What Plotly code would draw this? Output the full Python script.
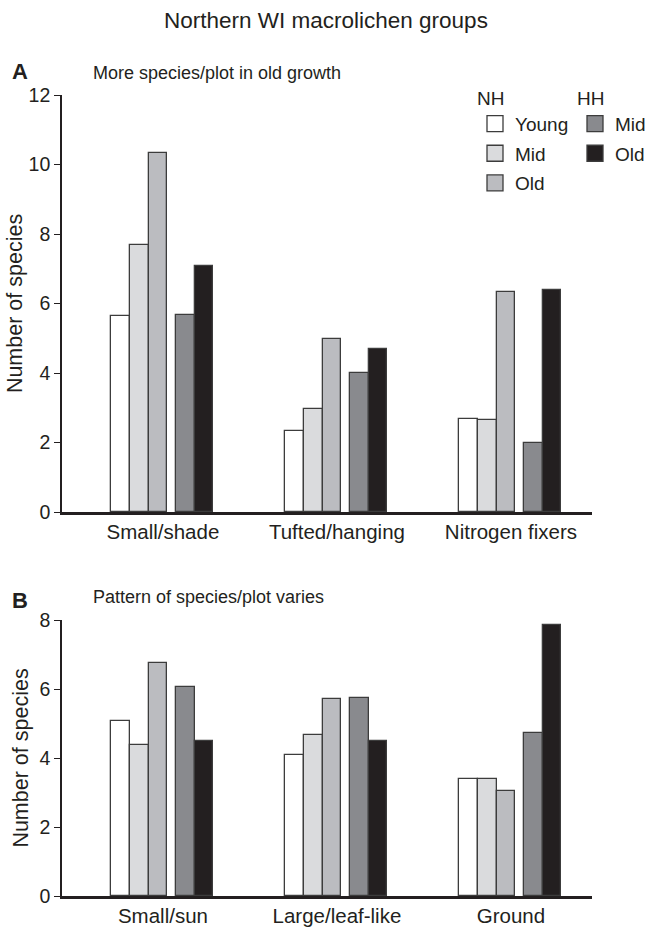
import plotly.graph_objects as go
from plotly.subplots import make_subplots

# Lichen functional groups per panel
groups_a = ["Small/shade", "Tufted/hanging", "Nitrogen fixers"]
groups_b = ["Small/sun", "Large/leaf-like", "Ground"]

# Mean number of species per plot, by forest type and stand age
nh_young_a = [5.64, 2.32, 2.67]
nh_mid_a = [7.67, 2.96, 2.65]
nh_old_a = [10.33, 4.99, 6.32]
hh_mid_a = [5.66, 4.00, 1.99]
hh_old_a = [7.07, 4.69, 6.40]

nh_young_b = [5.06, 4.09, 3.38]
nh_mid_b = [4.38, 4.68, 3.40]
nh_old_b = [6.75, 5.72, 3.04]
hh_mid_b = [6.06, 5.74, 4.72]
hh_old_b = [4.49, 4.48, 7.86]

y_ticks_a = [0, 2, 4, 6, 8, 10, 12]
y_ticks_b = [0, 2, 4, 6, 8]

FONT = "Liberation Sans, Arial, Helvetica, sans-serif"
INK = "#231f20"
W, H = 652, 928
BAR_W = 0.108
EDGE = dict(color="#3c3c3c", width=1.3)

series = [
    # key, name, legend, fill, offset, values A, values B
    ("nh_young", "Young", "legend", "#ffffff", -0.298, nh_young_a, nh_young_b),
    ("nh_mid", "Mid", "legend", "#dadbdd", -0.190, nh_mid_a, nh_mid_b),
    ("nh_old", "Old", "legend", "#bbbcc0", -0.082, nh_old_a, nh_old_b),
    ("hh_mid", "Mid", "legend2", "#898a8e", 0.074, hh_mid_a, hh_mid_b),
    ("hh_old", "Old", "legend2", "#231f20", 0.182, hh_old_a, hh_old_b),
]

fig = make_subplots(rows=2, cols=1)

for key, name, leg, fill, off, va, vb in series:
    fig.add_trace(go.Bar(x=groups_a, y=va, name=name, legendgroup=key,
                         marker=dict(color=fill, line=EDGE),
                         width=BAR_W, offset=off, showlegend=False),
                  row=1, col=1)
    fig.add_trace(go.Bar(x=groups_b, y=vb, name=name, legendgroup=key,
                         marker=dict(color=fill, line=EDGE),
                         width=BAR_W, offset=off, showlegend=False),
                  row=2, col=1)
    # legend key: a filled square swatch for the series
    fig.add_trace(go.Scatter(x=[None], y=[None], mode="markers", name=name,
                             legend=leg, legendgroup=key, showlegend=True,
                             marker=dict(symbol="square", size=16, color=fill,
                                         line=dict(color="#3c3c3c", width=1.3))),
                  row=1, col=1)

x_dom = [62 / W, 592 / W]
xcommon = dict(domain=x_dom, range=[-0.58, 2.466], showline=True,
               linecolor=INK, linewidth=2.6, ticks="", automargin=False,
               tickfont=dict(family=FONT, size=20.5, color=INK),
               showgrid=False, zeroline=False, fixedrange=True)
ycommon = dict(showline=True, linecolor=INK, linewidth=1.6, automargin=False,
               ticks="outside", ticklen=6, tickwidth=1.3, tickcolor=INK,
               tickfont=dict(family=FONT, size=19.5, color=INK),
               showgrid=False, zeroline=False)

ytitle_font = dict(family=FONT, size=21.5, color=INK)

fig.update_xaxes(**xcommon, row=1, col=1)
fig.update_xaxes(**xcommon, row=2, col=1)
fig.update_yaxes(**ycommon, domain=[1 - 512 / H, 1 - 95 / H], range=[0, 12],
                 tickvals=y_ticks_a,
                 title=dict(text="Number of species", standoff=0, font=ytitle_font),
                 row=1, col=1)
fig.update_yaxes(**ycommon, domain=[1 - 896 / H, 1 - 620 / H], range=[0, 8],
                 tickvals=y_ticks_b,
                 title=dict(text="Number of species", standoff=5, font=ytitle_font),
                 row=2, col=1)

legend_style = dict(font=dict(family=FONT, size=19, color=INK),
                    bgcolor="rgba(0,0,0,0)", itemsizing="trace",
                    traceorder="grouped", xanchor="left", yanchor="top",
                    tracegroupgap=2, itemwidth=30)
fig.update_layout(
    legend=dict(**legend_style, x=475 / W, y=1 - 80 / H,
                title=dict(text="NH", side="top",
                           font=dict(family=FONT, size=19, color=INK))),
    legend2=dict(**legend_style, x=575 / W, y=1 - 80 / H,
                 title=dict(text="HH", side="top",
                            font=dict(family=FONT, size=19, color=INK))),
)

annots = [
    dict(text="Northern WI macrolichen groups", x=326 / W, y=1 - 20 / H,
         xanchor="center", size=22.5),
    dict(text="<b>A</b>", x=10 / W, y=1 - 72 / H, xanchor="left", size=22),
    dict(text="More species/plot in old growth", x=91 / W, y=1 - 73 / H,
         xanchor="left", size=18),
    dict(text="<b>B</b>", x=10 / W, y=1 - 600 / H, xanchor="left", size=22),
    dict(text="Pattern of species/plot varies", x=91 / W, y=1 - 597 / H,
         xanchor="left", size=18),
]
for a in annots:
    fig.add_annotation(text=a["text"], x=a["x"], y=a["y"], xref="paper",
                       yref="paper", xanchor=a["xanchor"], yanchor="middle",
                       showarrow=False,
                       font=dict(family=FONT, size=a["size"], color=INK))

fig.update_layout(width=W, height=H, margin=dict(l=0, r=0, t=0, b=0),
                  paper_bgcolor="white", plot_bgcolor="white",
                  barmode="overlay", bargap=0)

fig.write_html("out.html")
